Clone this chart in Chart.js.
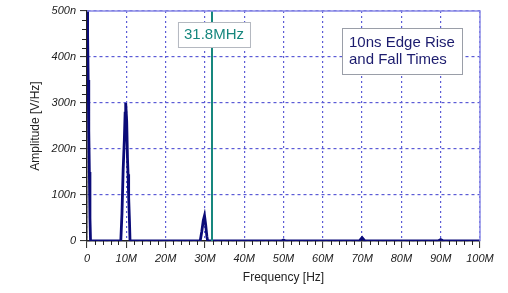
<!DOCTYPE html>
<html>
<head>
<meta charset="utf-8">
<script src="https://cdn.jsdelivr.net/npm/chart.js@4.4.1/dist/chart.umd.min.js"></script>
<style>
  html, body { margin: 0; padding: 0; background: #fff; }
  #wrap { width: 508px; height: 293px; }
</style>
</head>
<body>
<div id="wrap"><canvas id="spectrum"></canvas></div>
<script>
// spectrum: frequency in MHz, amplitude in nV/Hz
const freqMHz = [0, 0.15, 0.3, 0.45, 0.6, 0.75, 0.9,
  8.6, 8.9, 9.2, 9.5, 9.7, 9.85, 10.1, 10.3, 10.45, 10.6, 10.8, 10.95,
  28.8, 29.2, 29.6, 29.9, 30.2, 30.5, 30.7,
  49.4, 50, 50.6,
  69.3, 70, 70.7,
  89.3, 90, 90.7,
  100];
const ampNV = [700, 450, 350, 240, 150, 50, 0,
  0, 60, 155, 220, 278, 300, 260, 180, 145, 95, 45, 0,
  0, 20, 45, 55, 35, 10, 0,
  0, 2, 0,
  0, 7, 0,
  0, 3, 0,
  0];

const markerMHz = 31.8;
const markerLabel = "31.8MHz";
const noteLines = ["10ns Edge Rise", "and Fall Times"];

const xTicks = ["0", "10M", "20M", "30M", "40M", "50M", "60M", "70M", "80M", "90M", "100M"];
const yTicks = ["0", "100n", "200n", "300n", "400n", "500n"];

const points = freqMHz.map((f, i) => ({ x: f * 1e6, y: ampNV[i] * 1e-9 }));
const markerPts = [{ x: markerMHz * 1e6, y: 0 }, { x: markerMHz * 1e6, y: 500e-9 }];

const gridBlue = "#5b5bd6";

// minor ticks, plot frame and the two text boxes
const extras = {
  id: "extras",
  afterDraw(chart) {
    const { ctx, chartArea: a, scales: { x, y } } = chart;
    ctx.save();
    // top / right frame
    ctx.strokeStyle = "#8a8ae6";
    ctx.lineWidth = 1.5;
    ctx.beginPath();
    ctx.moveTo(a.left, a.top);
    ctx.lineTo(a.right, a.top);
    ctx.lineTo(a.right, a.bottom);
    ctx.stroke();

    // minor ticks
    ctx.strokeStyle = "#222";
    ctx.lineWidth = 1;
    ctx.beginPath();
    for (let v = 0; v <= 100; v += 2) {
      if (v % 10 === 0) continue;
      const px = Math.round(x.getPixelForValue(v * 1e6)) + 0.5;
      ctx.moveTo(px, a.bottom);
      ctx.lineTo(px, a.bottom + 4);
    }
    for (let v = 0; v <= 500; v += 20) {
      if (v % 100 === 0) continue;
      const py = Math.round(y.getPixelForValue(v * 1e-9)) + 0.5;
      ctx.moveTo(a.left, py);
      ctx.lineTo(a.left - 5, py);
    }
    ctx.stroke();

    // marker label
    const mx = x.getPixelForValue(markerMHz * 1e6);
    ctx.font = "15px 'Liberation Sans', Arial, sans-serif";
    const mw = ctx.measureText(markerLabel).width + 12;
    ctx.fillStyle = "#fff";
    ctx.fillRect(mx - mw / 2 + 2, 22, mw, 25);
    ctx.strokeStyle = "#b4b8c0";
    ctx.lineWidth = 1;
    ctx.strokeRect(mx - mw / 2 + 2 + 0.5, 22.5, mw, 25);
    ctx.fillStyle = "#17877e";
    ctx.textAlign = "center";
    ctx.textBaseline = "middle";
    ctx.fillText(markerLabel, mx + 2, 35);

    // note box
    ctx.fillStyle = "#fff";
    ctx.fillRect(342, 28, 120, 46);
    ctx.strokeStyle = "#9a9ea8";
    ctx.strokeRect(342.5, 28.5, 120, 46);
    ctx.fillStyle = "#1c1c6e";
    ctx.textAlign = "left";
    ctx.font = "15px 'Liberation Sans', Arial, sans-serif";
    ctx.fillText(noteLines[0], 349, 43);
    ctx.fillText(noteLines[1], 349, 60);
    ctx.restore();
  }
};

const tickFont = { family: "'Liberation Sans', Arial, sans-serif", size: 11, style: "italic" };
const titleFont = { family: "'Liberation Sans', Arial, sans-serif", size: 12 };

new Chart(document.getElementById("spectrum"), {
  type: "line",
  data: {
    datasets: [
      {
        data: markerPts,
        borderColor: "#17877e",
        borderWidth: 2,
        pointRadius: 0,
        tension: 0
      },
      {
        data: points,
        borderColor: "#0b0b78",
        borderWidth: 2.8,
        pointRadius: 0,
        tension: 0,
        borderJoinStyle: "miter"
      }
    ]
  },
  options: {
    responsive: true,
    maintainAspectRatio: false,
    animation: false,
    events: [],
    layout: { padding: { top: 11, right: 28, left: 0, bottom: 0 } },
    plugins: { legend: { display: false }, tooltip: { enabled: false } },
    scales: {
      x: {
        type: "linear",
        min: 0,
        max: 100e6,
        afterFit(s) { s.height = 52; },
        afterBuildTicks(s) {
          s.ticks = xTicks.map((t, i) => ({ value: i * 10e6 }));
        },
        ticks: {
          color: "#222",
          font: tickFont,
          padding: 4,
          maxRotation: 0,
          autoSkip: false,
          callback: (v, i) => xTicks[i]
        },
        grid: { color: gridBlue, lineWidth: 1.2, tickColor: "#222", tickLength: 7, tickWidth: 1 },
        border: { color: "#222", width: 1.5, dash: [2, 3] },
        title: { display: true, text: "Frequency [Hz]", color: "#222", font: titleFont, padding: { top: 0, bottom: 8 } }
      },
      y: {
        min: 0,
        max: 500e-9,
        afterFit(s) { s.width = 87; },
        afterBuildTicks(s) {
          s.ticks = yTicks.map((t, i) => ({ value: i * 100e-9 }));
        },
        ticks: {
          color: "#222",
          font: tickFont,
          padding: 4,
          autoSkip: false,
          callback: (v, i) => yTicks[i]
        },
        grid: { color: gridBlue, lineWidth: 1.2, tickColor: "#222", tickLength: 7, tickWidth: 1 },
        border: { color: "#222", width: 1.5, dash: [3, 3] },
        title: { display: true, text: "Amplitude [V/Hz]", color: "#222", font: titleFont, padding: { top: 28, bottom: 0 } }
      }
    }
  },
  plugins: [extras]
});
</script>
</body>
</html>
